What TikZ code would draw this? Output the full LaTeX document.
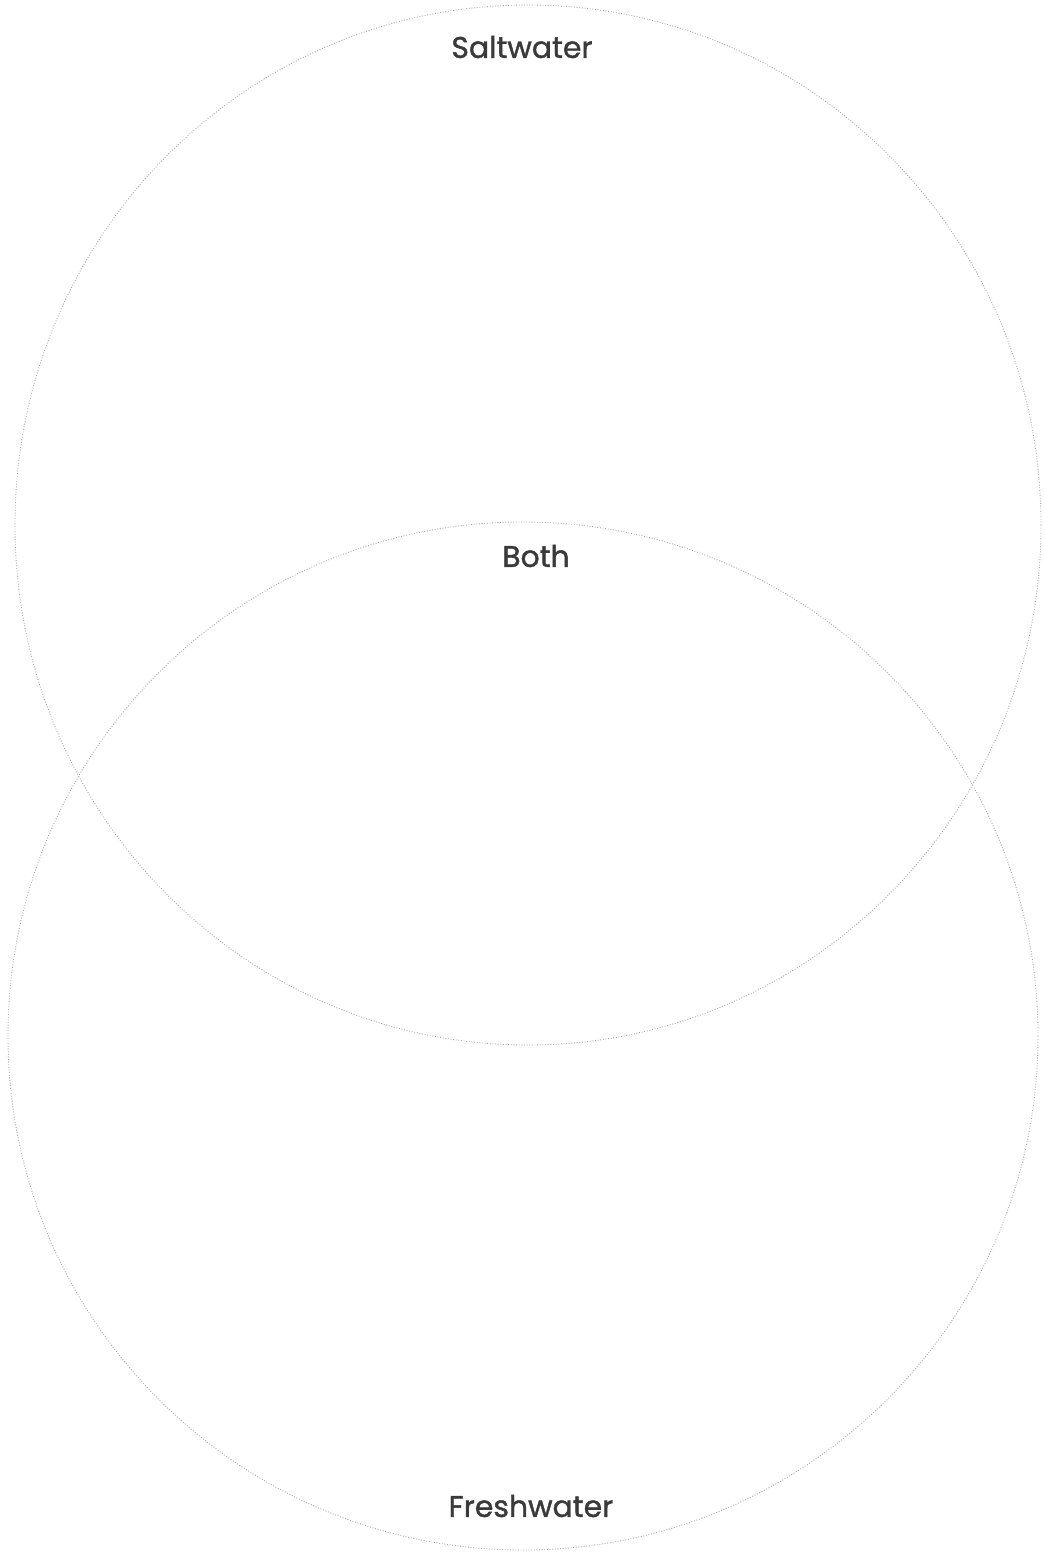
\documentclass[tikz,border=0pt]{standalone}
\usepackage{fontspec}
\setmainfont{Poppins}
\newfontfamily\vennfont{Poppins}[FakeBold=1.3]
\usepackage{xcolor}
\definecolor{labelgray}{HTML}{3A3A3A}
\definecolor{ringgray}{HTML}{A8A8A8}

\begin{document}
\begin{tikzpicture}[every node/.style={font=\vennfont\fontsize{17}{20}\selectfont, text=labelgray}]

% page frame (1 px of the sheet = 0.02 cm)
\useasboundingbox (0,0) rectangle (20.9,-31.06);
\fill[white] (0,0) rectangle (20.9,-31.06);

% ======================================================================
% TWO OVERLAPPING RINGS
% ======================================================================
\draw[ringgray, line width=0.5pt, densely dotted] (10.56,-10.50) ellipse [x radius=10.26, y radius=10.40];
\draw[ringgray, line width=0.5pt, densely dotted] (10.46,-20.72) ellipse [x radius=10.30, y radius=10.28];

% labels
\node (salt)  at (10.44,-0.94)  {Saltwater};
\node (both)  at (10.72,-11.12) {Both};
\node (fresh) at (10.62,-30.12) {Freshwater};

\end{tikzpicture}
\end{document}
